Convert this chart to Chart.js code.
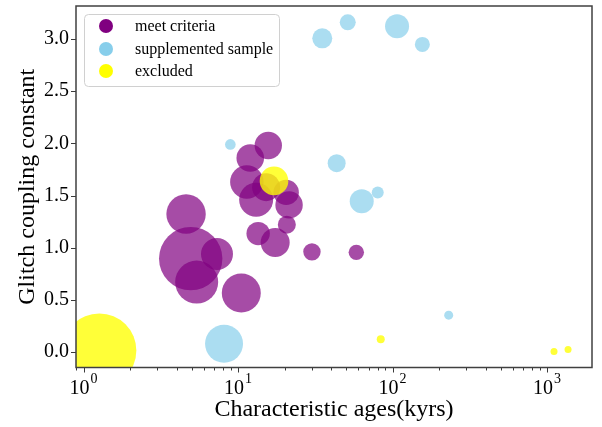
<!DOCTYPE html>
<html>
<head>
<meta charset="utf-8">
<script src="https://cdn.jsdelivr.net/npm/chart.js@4"></script>
<style>
  html, body { margin: 0; padding: 0; background: #fff; }
  #wrap { width: 602px; height: 427px; }
</style>
</head>
<body>
<div id="wrap"><canvas id="c" width="602" height="427"></canvas></div>
<script>
// Pulsars grouped by selection status: characteristic age (kyr), glitch coupling constant, bubble radius
const seriesNames = ['meet criteria', 'supplemented sample', 'excluded'];

const metAge      = [15.7, 12.0, 11.4, 13.1, 15.2, 20.5, 21.4, 20.7, 13.5, 17.4, 30.1, 58.3, 4.61, 4.94, 7.31, 5.40, 10.5];
const metCoupling = [1.98, 1.86, 1.63, 1.46, 1.58, 1.53, 1.41, 1.22, 1.135, 1.05, 0.96, 0.955, 1.323, 0.895, 0.939, 0.67, 0.565];
const metSize     = [13.7, 13.8, 16.7, 17, 14, 12.7, 13.7, 9, 11.7, 14.5, 8.7, 7.7, 19.7, 31.7, 16, 21.5, 19.5];

const supAge      = [8.92, 43.5, 63.2, 8.12, 35.1, 51.3, 107, 156, 80.2, 231];
const supCoupling = [1.99, 1.81, 1.445, 0.079, 3.007, 3.16, 3.122, 2.949, 1.528, 0.353];
const supSize     = [5.3, 9, 12, 19, 10, 8, 12, 7.5, 6, 4.5];

const excAge      = [1.266, 17.1, 83.9, 1110, 1368];
const excCoupling = [0.014, 1.64, 0.123, 0.005, 0.024];
const excSize     = [37, 14.3, 4, 3.5, 3.5];

// Axis ticks
const xMajorTicks = [1, 10, 100, 1000];
const xTickBase = '10';
const xTickExponents = ['0', '1', '2', '3'];
const yTicks = [0.0, 0.5, 1.0, 1.5, 2.0, 2.5, 3.0];
const xTitle = 'Characteristic ages(kyrs)';
const yTitle = 'Glitch coupling constant';

const SERIF = "'Liberation Serif', 'Times New Roman', serif";
const solid = ['#800080', '#87ceeb', '#ffff00'];
const faded = ['rgba(128,0,128,0.7)', 'rgba(135,206,235,0.7)', 'rgba(255,255,0,0.78)'];

function points(ax, ay, ar) {
  return ax.map((x, i) => ({ x: x, y: ay[i], r: ar[i] }));
}

const framePlugin = {
  id: 'frame',
  afterDraw(chart) {
    const ctx = chart.ctx;
    const a = chart.chartArea;
    const xs = chart.scales.x, ys = chart.scales.y;
    ctx.save();
    ctx.strokeStyle = '#3a3a3a';
    ctx.lineWidth = 1;
    // x ticks: majors at decades, minors in between
    for (let e = -1; e <= 3; e++) {
      for (let m = 1; m <= 9; m++) {
        const v = m * Math.pow(10, e);
        if (v < xs.min || v > xs.max) continue;
        const px = Math.round(xs.getPixelForValue(v)) + 0.5;
        const len = m === 1 ? 5 : 3;
        ctx.beginPath();
        ctx.moveTo(px, a.bottom);
        ctx.lineTo(px, a.bottom + len);
        ctx.stroke();
      }
    }
    // y ticks
    yTicks.forEach(v => {
      const py = Math.round(ys.getPixelForValue(v)) + 0.5;
      ctx.beginPath();
      ctx.moveTo(a.left - 5, py);
      ctx.lineTo(a.left, py);
      ctx.stroke();
    });
    // frame
    ctx.lineWidth = 1.5;
    ctx.strokeStyle = '#404040';
    ctx.strokeRect(a.left, a.top, a.right - a.left, a.bottom - a.top);

    // x tick labels as 10 with superscript exponent
    ctx.fillStyle = '#000';
    ctx.textBaseline = 'alphabetic';
    xMajorTicks.forEach((v, i) => {
      const px = xs.getPixelForValue(v);
      ctx.font = '20px ' + SERIF;
      const wb = ctx.measureText(xTickBase).width;
      ctx.font = '14px ' + SERIF;
      const we = ctx.measureText(xTickExponents[i]).width;
      const x0 = px - (wb + we + 1) / 2;
      ctx.font = '20px ' + SERIF;
      ctx.textAlign = 'left';
      ctx.fillText(xTickBase, x0, 394);
      ctx.font = '14px ' + SERIF;
      ctx.fillText(xTickExponents[i], x0 + wb + 1, 383);
    });

    // legend
    const lx = 84, ly = 14, lw = 195, lh = 72;
    ctx.beginPath();
    ctx.roundRect(lx + 0.5, ly + 0.5, lw, lh, 4);
    ctx.fillStyle = 'rgba(255,255,255,0.8)';
    ctx.fill();
    ctx.lineWidth = 1;
    ctx.strokeStyle = '#d0d0d0';
    ctx.stroke();
    const rows = [26, 49, 71];
    seriesNames.forEach((name, i) => {
      ctx.beginPath();
      ctx.arc(106, rows[i], 7, 0, Math.PI * 2);
      ctx.fillStyle = solid[i];
      ctx.fill();
      ctx.fillStyle = '#000';
      ctx.font = '16px ' + SERIF;
      ctx.textAlign = 'left';
      ctx.textBaseline = 'middle';
      ctx.fillText(name, 135, rows[i] + 1);
    });
    ctx.restore();
  }
};

new Chart(document.getElementById('c'), {
  type: 'bubble',
  data: {
    datasets: [
      { label: seriesNames[0], data: points(metAge, metCoupling, metSize), backgroundColor: faded[0], borderWidth: 0, order: 2, clip: 0 },
      { label: seriesNames[1], data: points(supAge, supCoupling, supSize), backgroundColor: faded[1], borderWidth: 0, order: 1, clip: 0 },
      { label: seriesNames[2], data: points(excAge, excCoupling, excSize), backgroundColor: faded[2], borderWidth: 0, order: 0, clip: 0 }
    ]
  },
  options: {
    responsive: false,
    animation: false,
    devicePixelRatio: 1,
    events: [],
    layout: { autoPadding: false, padding: { top: 6, right: 10, left: 0, bottom: 0 } },
    plugins: { legend: { display: false }, tooltip: { enabled: false } },
    elements: { point: { hoverRadius: 0, borderWidth: 0 } },
    scales: {
      x: {
        type: 'logarithmic',
        min: 0.894,
        max: 1955,
        grid: { display: false, drawTicks: false },
        border: { display: false },
        ticks: { display: false },
        title: {
          display: true, text: xTitle, color: '#000',
          font: { family: SERIF, size: 24 }, padding: { top: 0, bottom: 3 }
        },
        afterFit(scale) { scale.height = 59.5; scale.paddingLeft = 0; scale.paddingRight = 0; }
      },
      y: {
        type: 'linear',
        min: -0.149,
        max: 3.317,
        grid: { display: false, drawTicks: false },
        border: { display: false },
        afterBuildTicks(scale) { scale.ticks = yTicks.map(v => ({ value: v })); },
        ticks: {
          color: '#000',
          padding: 7,
          font: { family: SERIF, size: 20 },
          callback: v => Number(v).toFixed(1)
        },
        title: {
          display: true, text: yTitle, color: '#000',
          font: { family: SERIF, size: 24 }, padding: { top: 13, bottom: 0 }
        },
        afterFit(scale) { scale.width = 76; scale.paddingTop = 0; scale.paddingBottom = 0; }
      }
    }
  },
  plugins: [framePlugin]
});
</script>
</body>
</html>
